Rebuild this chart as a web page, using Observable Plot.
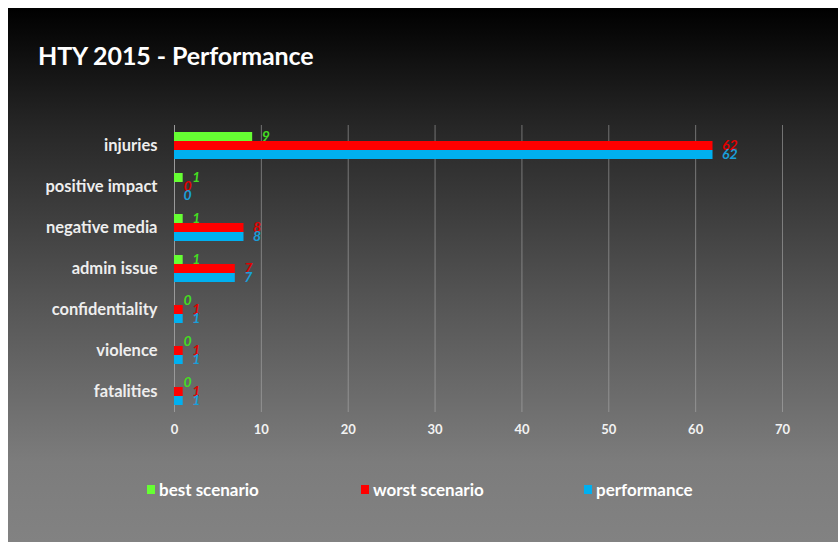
<!DOCTYPE html>
<html>
<head>
<meta charset="utf-8">
<script src="https://cdn.jsdelivr.net/npm/d3@7"></script>
<script src="https://cdn.jsdelivr.net/npm/@observablehq/plot@0.6"></script>
<style>
  html, body { margin: 0; padding: 0; background: #fff; }
  body { width: 838px; height: 542px; position: relative; overflow: hidden; font-family: Lato, "Open Sans", sans-serif; }
  #frame { position: absolute; left: 8px; top: 8px; width: 830px; height: 534px;
    background: linear-gradient(to bottom, #000000 0%, #262626 22%, #555555 55%, #7c7c7c 85%, #828282 100%); }
  #title { position: absolute; left: 38px; top: 40px; color: #fff; font: bold 25px Lato, sans-serif; letter-spacing: -0.1px; }
  #chart { position: absolute; left: 0; top: 0; }
  #chart svg { background: transparent; overflow: visible; }
  #legend { position: absolute; left: 0; top: 479px; width: 838px; height: 22px; color: #fff; font: bold 17px Lato, sans-serif; }
  .item { position: absolute; top: 0; display: flex; align-items: center; gap: 4px; }
  .sw { width: 8px; height: 9px; display: inline-block; }
  [aria-label="fy-axis tick label"] text { font: bold 16.5px Lato, sans-serif; fill: #eeeeee; }
  [aria-label="x-axis tick label"] text { font: bold 13px Lato, sans-serif; fill: #f2f2f2; }
</style>
</head>
<body>
<div id="frame"></div>
<div id="title">HTY 2015 - Performance</div>
<div id="chart"></div>
<div id="legend"></div>
<script>
const categories = ["injuries", "positive impact", "negative media", "admin issue", "confidentiality", "violence", "fatalities"];
const seriesNames = ["best scenario", "worst scenario", "performance"];
const bestScenario = [9, 1, 1, 1, 0, 0, 0];
const worstScenario = [62, 0, 8, 7, 1, 1, 1];
const performance = [62, 0, 8, 7, 1, 1, 1];
const xTicks = [0, 10, 20, 30, 40, 50, 60, 70];
const barColors = ["#66ff33", "#ff0000", "#00b0f0"];
const labelColors = ["#44dd22", "#e00000", "#1a9fd9"];

const seriesValues = [bestScenario, worstScenario, performance];
const data = [];
categories.forEach((c, i) => {
  seriesNames.forEach((s, j) => data.push({category: c, series: s, value: seriesValues[j][i]}));
});

const labelMarks = seriesNames.map((s, j) =>
  Plot.text(data.filter(d => d.series === s), {
    fy: "category", y: "series", x: "value", text: d => String(d.value),
    textAnchor: "start", dx: 9, fill: labelColors[j],
    fontStyle: "italic", fontWeight: "bold", fontSize: 14, fontFamily: "Lato, sans-serif"
  })
);

const chart = Plot.plot({
  width: 838,
  height: 460,
  marginLeft: 174,
  marginRight: 56,
  marginTop: 123,
  marginBottom: 46,
  style: {background: "transparent", overflow: "visible"},
  x: {domain: [0, 70], ticks: xTicks, tickSize: 0, tickPadding: 12, label: null},
  fy: {domain: categories, padding: 0, label: null, tickSize: 0, tickPadding: 17},
  y: {domain: seriesNames, paddingInner: 0, paddingOuter: 0.75, axis: null},
  color: {domain: seriesNames, range: barColors},
  marks: [
    Plot.ruleX(xTicks.filter(t => t > 0), {stroke: "#b0b0b0", strokeOpacity: 0.55, strokeWidth: 1}),
    Plot.ruleX([0], {stroke: "#9a9a9a", strokeWidth: 1}),
    Plot.barX(data, {fy: "category", y: "series", x: "value", fill: "series"}),
    ...labelMarks
  ]
});
document.getElementById("chart").appendChild(chart);

const legend = document.getElementById("legend");
const legendX = [147, 361, 584];
seriesNames.forEach((s, j) => {
  const item = document.createElement("div");
  item.className = "item";
  item.style.left = legendX[j] + "px";
  const sw = document.createElement("span");
  sw.className = "sw";
  sw.style.background = barColors[j];
  const t = document.createElement("span");
  t.textContent = s;
  item.appendChild(sw);
  item.appendChild(t);
  legend.appendChild(item);
});
</script>
</body>
</html>
